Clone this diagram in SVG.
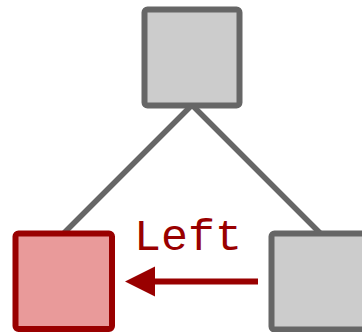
<svg xmlns="http://www.w3.org/2000/svg" width="362" height="332" viewBox="0 0 362 332">
  <style>
    .edge { stroke: #666666; stroke-width: 5.5; fill: none; }
    .node { fill: #cccccc; stroke: #666666; stroke-width: 6; }
    .node.active { fill: #e99a9a; stroke: #990000; }
    .move { stroke: #990000; stroke-width: 6; fill: none; }
    .label { font-family: "Liberation Mono", "Courier New", monospace; font-size: 45px; fill: #990000; }
  </style>
  <rect width="362" height="332" fill="#ffffff"/>

  <!-- tree edges -->
  <g id="edges">
    <line class="edge" x1="192" y1="105" x2="64" y2="233"/>
    <line class="edge" x1="192" y1="105" x2="320" y2="233"/>
  </g>

  <g id="root">
    <rect class="node" x="144.5" y="9.5" width="95" height="96" rx="3"/>
  </g>
  <g id="left-child">
    <rect class="node active" x="15.5" y="233.5" width="96.5" height="95.5" rx="3"/>
  </g>
  <g id="right-child">
    <rect class="node" x="271.5" y="233.5" width="96" height="96" rx="3"/>
  </g>

  <!-- move to the left sibling -->
  <g id="move">
    <line class="move" x1="258" y1="281.5" x2="155" y2="281.5"/>
    <path d="M125,281.5 L155,266.5 L155,296.5 Z" fill="#990000"/>
    <text class="label" x="134" y="249.5">Left</text>
  </g>
</svg>
